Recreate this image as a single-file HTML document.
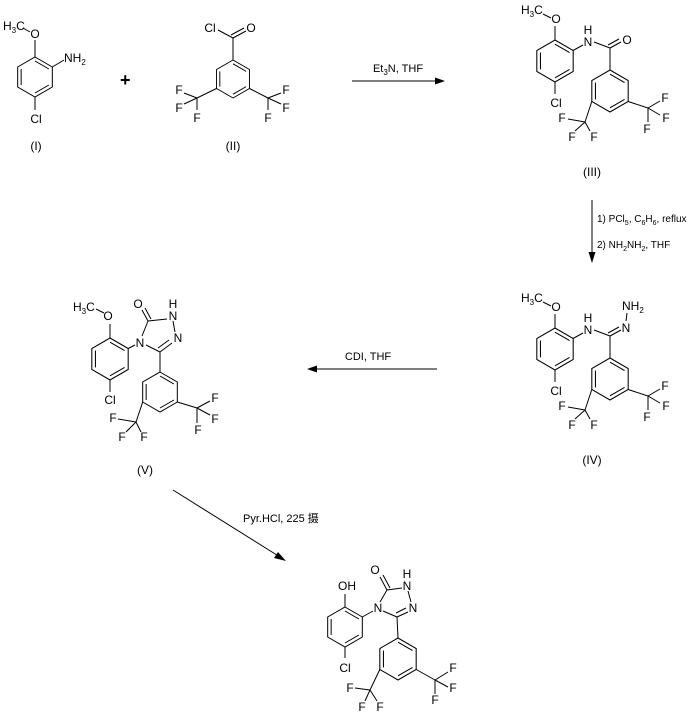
<!DOCTYPE html>
<html><head><meta charset="utf-8"><style>
html,body{margin:0;padding:0;background:#fff;}
svg{display:block;}
text{font-family:"Liberation Sans","Noto Sans CJK SC",sans-serif;font-size:12px;fill:#000;}
.c{text-anchor:middle;}
.s{font-size:8px;}
</style></head><body>
<svg width="693" height="719" viewBox="0 0 693 719" xmlns="http://www.w3.org/2000/svg">
<defs>
<g id="hex" fill="none" stroke="#000" stroke-width="1">
<polygon points="0,-20 17.32,-10 17.32,10 0,20 -17.32,10 -17.32,-10"/>
<line x1="0" y1="-16" x2="13.86" y2="-8"/>
<line x1="13.86" y1="8" x2="0" y2="16"/>
<line x1="-13.86" y1="8" x2="-13.86" y2="-8"/>
</g>
</defs>
<g stroke="#000" stroke-width="1" fill="none">
<use href="#hex" transform="translate(35,77)"/>
<line x1="35" y1="57" x2="35" y2="40"/>
<line x1="23" y1="28" x2="30" y2="32"/>
<line x1="52.3" y1="67" x2="64" y2="60"/>
<line x1="35" y1="97" x2="35" y2="110"/>
<use href="#hex" transform="translate(233,79) scale(0.95)"/>
<line x1="233" y1="60" x2="233" y2="38"/>
<line x1="233" y1="38" x2="218" y2="30"/>
<line x1="233" y1="38" x2="246" y2="31"/>
<line x1="231" y1="35" x2="244" y2="28"/>
<line x1="216.5" y1="88.5" x2="197" y2="98"/>
<line x1="197" y1="98" x2="184" y2="93"/><line x1="197" y1="98" x2="184" y2="104"/><line x1="197" y1="98" x2="197" y2="110"/>
<line x1="249.5" y1="88.5" x2="268" y2="98"/>
<line x1="268" y1="98" x2="281" y2="93"/><line x1="268" y1="98" x2="281" y2="104"/><line x1="268" y1="98" x2="268" y2="110"/>
<line x1="352" y1="81" x2="438" y2="81"/>
<use href="#hex" transform="translate(555,61) scale(1.05)"/>
<line x1="555" y1="40" x2="555" y2="26"/>
<line x1="543" y1="14" x2="551" y2="18"/>
<line x1="573" y1="50.5" x2="583" y2="45"/>
<line x1="594" y1="42" x2="610" y2="48"/>
<line x1="610" y1="48" x2="621" y2="42"/><line x1="608" y1="45" x2="619" y2="39"/>
<line x1="610" y1="48" x2="610" y2="70"/>
<line x1="555" y1="82" x2="555" y2="94"/>
<use href="#hex" transform="translate(610,91) scale(1.05)"/>
<line x1="591.8" y1="101.5" x2="585" y2="122"/>
<line x1="585" y1="122" x2="568" y2="119"/><line x1="585" y1="122" x2="575" y2="131"/><line x1="585" y1="122" x2="590" y2="131"/>
<line x1="628.2" y1="101.5" x2="648" y2="108"/>
<line x1="648" y1="108" x2="660" y2="101"/><line x1="648" y1="108" x2="660" y2="115"/><line x1="648" y1="108" x2="648" y2="122"/>
<line x1="592" y1="200" x2="592" y2="255"/>
<use href="#hex" transform="translate(555,349) scale(1.05)"/>
<line x1="555" y1="328" x2="555" y2="314"/>
<line x1="543" y1="302" x2="551" y2="306"/>
<line x1="573" y1="338.5" x2="583" y2="333"/>
<line x1="594" y1="330" x2="610" y2="336"/>
<line x1="610" y1="336" x2="621" y2="330"/><line x1="608" y1="333" x2="619" y2="327"/>
<line x1="626" y1="321" x2="627" y2="313"/>
<line x1="610" y1="336" x2="610" y2="358"/>
<line x1="555" y1="370" x2="555" y2="382"/>
<use href="#hex" transform="translate(610,379) scale(1.05)"/>
<line x1="591.8" y1="389.5" x2="585" y2="410"/>
<line x1="585" y1="410" x2="568" y2="407"/><line x1="585" y1="410" x2="575" y2="419"/><line x1="585" y1="410" x2="590" y2="419"/>
<line x1="628.2" y1="389.5" x2="648" y2="396"/>
<line x1="648" y1="396" x2="660" y2="389"/><line x1="648" y1="396" x2="660" y2="403"/><line x1="648" y1="396" x2="648" y2="410"/>
<line x1="437" y1="369" x2="315" y2="369"/>
<use href="#hex" transform="translate(110,359) scale(1.05)"/>
<line x1="110" y1="338" x2="110" y2="324"/>
<line x1="96" y1="309" x2="104" y2="313"/>
<line x1="128.2" y1="348.5" x2="135" y2="345"/>
<line x1="142" y1="336" x2="148" y2="321"/>
<line x1="148" y1="321" x2="142" y2="310"/><line x1="151" y1="319" x2="145" y2="308"/>
<line x1="148" y1="321" x2="167" y2="319"/>
<line x1="173" y1="321" x2="175" y2="332"/>
<line x1="172" y1="343" x2="160" y2="352"/><line x1="169" y1="340" x2="158" y2="348"/>
<line x1="160" y1="352" x2="146" y2="345"/>
<line x1="160" y1="352" x2="160" y2="372"/>
<line x1="110" y1="380" x2="110" y2="392"/>
<use href="#hex" transform="translate(160,392)"/>
<line x1="142.7" y1="402" x2="136" y2="422"/>
<line x1="136" y1="422" x2="118" y2="419"/><line x1="136" y1="422" x2="126" y2="432"/><line x1="136" y1="422" x2="141" y2="432"/>
<line x1="177.3" y1="402" x2="197" y2="408"/>
<line x1="197" y1="408" x2="210" y2="401"/><line x1="197" y1="408" x2="210" y2="415"/><line x1="197" y1="408" x2="197" y2="423"/>
<line x1="173" y1="490" x2="280" y2="557"/>
<use href="#hex" transform="translate(345,627)"/>
<line x1="345" y1="607" x2="345" y2="594"/>
<line x1="345" y1="647" x2="345" y2="658"/>
<line x1="362.3" y1="617" x2="373" y2="611"/>
<line x1="380" y1="602" x2="387" y2="590"/>
<line x1="387" y1="590" x2="380" y2="577"/><line x1="390" y1="588" x2="383" y2="575"/>
<line x1="387" y1="590" x2="402" y2="588"/>
<line x1="408" y1="591" x2="411" y2="602"/>
<line x1="408" y1="612" x2="397" y2="617"/><line x1="406" y1="608" x2="396" y2="613"/>
<line x1="397" y1="617" x2="383" y2="611"/>
<line x1="397" y1="617" x2="398" y2="638"/>
<use href="#hex" transform="translate(398,659) scale(1.05)"/>
<line x1="379.8" y1="669.5" x2="370" y2="690"/>
<line x1="370" y1="690" x2="355" y2="688"/><line x1="370" y1="690" x2="365" y2="701"/><line x1="370" y1="690" x2="377" y2="701"/>
<line x1="416.2" y1="669.5" x2="435" y2="680"/>
<line x1="435" y1="680" x2="448" y2="672"/><line x1="435" y1="680" x2="448" y2="687"/><line x1="435" y1="680" x2="435" y2="694"/>
</g>
<g fill="#000">
<polygon points="445,81 435,77.5 435,84.5"/>
<polygon points="592,263 588.5,252 595.5,252"/>
<polygon points="307,369 317,365.5 317,372.5"/>
<polygon points="286,561 274,558 278,552"/>
</g>
<text x="3" y="30">H<tspan class="s" dy="3">3</tspan><tspan dy="-3">C</tspan></text>
<text class="c" x="35" y="38">O</text>
<text x="64" y="62">NH<tspan class="s" dy="3">2</tspan></text>
<text class="c" x="36" y="123">Cl</text>
<text class="c" x="36" y="150">(I)</text>
<text x="120" y="86" style="font-size:18px;font-weight:bold">+</text>
<text class="c" x="210" y="32">Cl</text>
<text class="c" x="251" y="32">O</text>
<text class="c" x="179" y="94">F</text><text class="c" x="179" y="112">F</text><text class="c" x="197" y="122">F</text>
<text class="c" x="286" y="94">F</text><text class="c" x="286" y="112">F</text><text class="c" x="268" y="122">F</text>
<text class="c" x="233" y="150">(II)</text>
<text class="c" x="398" y="72" style="font-size:11px">Et<tspan class="s" dy="3">3</tspan><tspan dy="-3">N, THF</tspan></text>
<text x="521" y="14">H<tspan class="s" dy="3">3</tspan><tspan dy="-3">C</tspan></text>
<text class="c" x="556" y="23">O</text>
<text class="c" x="588" y="34">H</text><text class="c" x="588" y="46">N</text>
<text class="c" x="627" y="44">O</text>
<text class="c" x="556" y="107">Cl</text>
<text class="c" x="562" y="122">F</text><text class="c" x="572" y="141">F</text><text class="c" x="594" y="141">F</text>
<text class="c" x="665" y="102">F</text><text class="c" x="666" y="122">F</text><text class="c" x="647" y="133">F</text>
<text class="c" x="592" y="176">(III)</text>
<text x="597" y="222" style="font-size:10px">1) PCl<tspan class="s" dy="3" style="font-size:7px">5</tspan><tspan dy="-3">, C</tspan><tspan class="s" dy="3" style="font-size:7px">6</tspan><tspan dy="-3">H</tspan><tspan class="s" dy="3" style="font-size:7px">6</tspan><tspan dy="-3">, reflux</tspan></text>
<text x="597" y="248" style="font-size:10px">2) NH<tspan class="s" dy="3" style="font-size:7px">2</tspan><tspan dy="-3">NH</tspan><tspan class="s" dy="3" style="font-size:7px">2</tspan><tspan dy="-3">, THF</tspan></text>
<text x="521" y="302">H<tspan class="s" dy="3">3</tspan><tspan dy="-3">C</tspan></text>
<text class="c" x="556" y="311">O</text>
<text class="c" x="588" y="322">H</text><text class="c" x="588" y="334">N</text>
<text class="c" x="626" y="332">N</text>
<text x="622" y="310">NH<tspan class="s" dy="3">2</tspan></text>
<text class="c" x="556" y="395">Cl</text>
<text class="c" x="562" y="410">F</text><text class="c" x="572" y="429">F</text><text class="c" x="594" y="429">F</text>
<text class="c" x="665" y="390">F</text><text class="c" x="666" y="410">F</text><text class="c" x="647" y="421">F</text>
<text class="c" x="592" y="464">(IV)</text>
<text class="c" x="368" y="360" style="font-size:11px">CDI, THF</text>
<text x="73" y="311">H<tspan class="s" dy="3">3</tspan><tspan dy="-3">C</tspan></text>
<text class="c" x="108" y="320">O</text>
<text class="c" x="140" y="347">N</text>
<text class="c" x="138" y="308">O</text>
<text class="c" x="173" y="308">H</text><text class="c" x="173" y="320">N</text>
<text class="c" x="178" y="342">N</text>
<text class="c" x="110" y="404">Cl</text>
<text class="c" x="113" y="422">F</text><text class="c" x="122" y="441">F</text><text class="c" x="144" y="441">F</text>
<text class="c" x="215" y="402">F</text><text class="c" x="215" y="423">F</text><text class="c" x="198" y="434">F</text>
<text class="c" x="145" y="474">(V)</text>
<text x="243" y="522" style="font-size:11px">Pyr.HCl, 225 摄</text>
<text class="c" x="347" y="590">OH</text>
<text class="c" x="375" y="574">O</text>
<text class="c" x="378" y="612">N</text>
<text class="c" x="407" y="578">H</text><text class="c" x="407" y="590">N</text>
<text class="c" x="413" y="612">N</text>
<text class="c" x="345" y="672">Cl</text>
<text class="c" x="350" y="692">F</text><text class="c" x="362" y="711">F</text><text class="c" x="380" y="711">F</text>
<text class="c" x="453" y="672">F</text><text class="c" x="453" y="692">F</text><text class="c" x="435" y="704">F</text>
</svg>
</body></html>
